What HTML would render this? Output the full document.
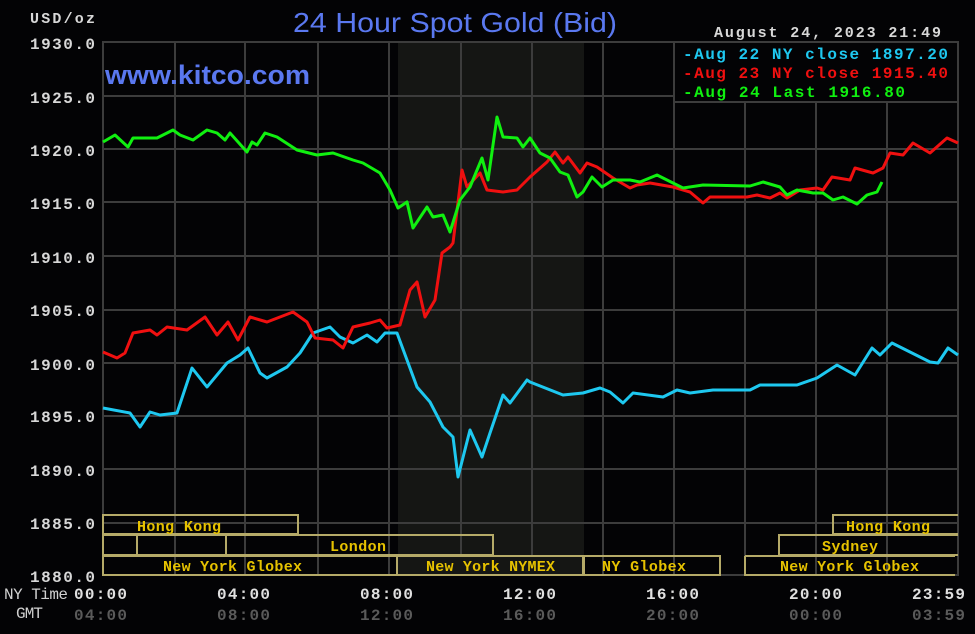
<!DOCTYPE html>
<html><head><meta charset="utf-8"><style>
html,body{margin:0;padding:0;background:#030305;}
svg{display:block}
.m{font-family:"Liberation Mono",monospace;font-weight:bold;}
</style></head><body>
<svg width="975" height="634" viewBox="0 0 975 634" xmlns="http://www.w3.org/2000/svg">
<rect width="975" height="634" fill="#030305"/>
<rect x="398" y="42" width="186" height="533" fill="#151614"/>
<g stroke="#3c3c3c" stroke-width="2" fill="none">
<line x1="103" y1="96" x2="958" y2="96"/><line x1="103" y1="149" x2="958" y2="149"/>
<line x1="103" y1="202" x2="958" y2="202"/><line x1="103" y1="256" x2="958" y2="256"/>
<line x1="103" y1="310" x2="958" y2="310"/><line x1="103" y1="363" x2="958" y2="363"/>
<line x1="103" y1="416" x2="958" y2="416"/><line x1="103" y1="469" x2="958" y2="469"/>
<line x1="103" y1="523" x2="958" y2="523"/>
<line x1="175" y1="42" x2="175" y2="575"/><line x1="245" y1="42" x2="245" y2="575"/>
<line x1="318" y1="42" x2="318" y2="575"/><line x1="389" y1="42" x2="389" y2="575"/>
<line x1="461" y1="42" x2="461" y2="575"/><line x1="532" y1="42" x2="532" y2="575"/>
<line x1="603" y1="42" x2="603" y2="575"/><line x1="674" y1="42" x2="674" y2="575"/>
<line x1="745" y1="42" x2="745" y2="575"/><line x1="816" y1="42" x2="816" y2="575"/>
<line x1="887" y1="42" x2="887" y2="575"/>
<rect x="103" y="42" width="855" height="533"/>
</g>
<rect x="675" y="43" width="282" height="58" fill="#030305"/>
<rect x="674" y="42" width="284" height="60" fill="none" stroke="#3c3c3c" stroke-width="2"/>
<!-- sessions -->
<g stroke="#b5aa68" stroke-width="2" fill="none">
<rect x="103" y="515" width="195" height="19"/>
<path d="M958 515 H833 V534 H958"/>
<rect x="103" y="535" width="34" height="20"/>
<rect x="137" y="535" width="89" height="20"/>
<rect x="226" y="535" width="267" height="20"/>
<path d="M958 535 H779 V555 H958"/>
<rect x="103" y="556" width="294" height="19"/>
<rect x="397" y="556" width="186" height="19" fill="#151614"/>
<rect x="584" y="556" width="136" height="19"/>
<path d="M745 556 V575 H955"/>
<line x1="745" y1="556" x2="955" y2="556"/>
</g>
<g class="m" font-size="15" fill="#e6c200" lengthAdjust="spacingAndGlyphs">
<text x="137" y="531" textLength="84">Hong Kong</text>
<text x="330" y="551" textLength="56">London</text>
<text x="163" y="571" textLength="139">New York Globex</text>
<text x="426" y="571" textLength="129">New York NYMEX</text>
<text x="602" y="571" textLength="84">NY Globex</text>
<text x="846" y="531" textLength="84">Hong Kong</text>
<text x="822" y="551" textLength="56">Sydney</text>
<text x="780" y="571" textLength="139">New York Globex</text>
</g>
<!-- lines -->
<g fill="none" stroke-width="3" stroke-linejoin="round">
<polyline stroke="#1ec8f0" points="103,408 130,413 140,427 150,412 160,415 177,413 192,368 207,387 227,363 240,355 248,348 260,373 267,378 287,367 300,353 313,333 330,327 340,337 353,343 367,335 377,342 385,333 397,333 407,360 417,387 430,402 443,427 453,437 458,477 470,430 482,457 490,433 503,395 510,403 527,380 530,382 563,395 583,393 600,388 610,392 623,403 633,393 663,397 677,390 690,393 713,390 750,390 760,385 797,385 817,378 837,365 855,375 872,348 880,355 892,343 910,352 930,362 938,363 948,348 958,355"/>
<polyline stroke="#f01010" points="103,352 117,358 125,353 133,333 150,330 157,335 167,327 187,330 205,317 217,335 228,322 238,340 250,317 267,322 293,312 307,322 315,338 333,340 343,348 353,327 370,323 380,320 387,328 400,325 410,290 417,282 425,317 435,300 442,253 450,247 453,243 462,170 467,187 480,173 487,190 503,192 517,190 530,177 547,162 555,152 563,163 568,157 580,173 587,163 597,167 613,178 630,188 637,185 650,183 673,187 690,192 703,203 710,197 747,197 757,195 770,198 780,193 787,198 800,190 817,188 823,190 832,177 850,180 855,168 873,173 883,168 890,153 903,155 913,143 930,153 947,138 958,143"/>
<polyline stroke="#10f010" points="103,142 115,135 128,147 133,138 157,138 173,130 180,135 193,140 207,130 217,133 225,140 230,133 247,152 252,142 257,145 265,133 277,137 297,150 317,155 333,153 353,160 363,163 380,173 390,190 398,208 407,202 413,228 427,207 433,217 443,215 450,232 460,200 470,187 482,158 488,180 497,117 503,137 517,138 523,147 530,138 540,153 550,158 560,172 568,175 577,197 583,192 592,177 602,187 613,180 630,180 640,182 657,175 683,188 703,185 750,186 763,182 780,187 787,195 797,190 813,193 823,193 833,200 843,197 857,204 867,195 877,192 882,182"/>
</g>
<!-- text -->
<text x="293" y="32" font-family="Liberation Sans,sans-serif" font-size="28" fill="#5a78f0" textLength="324" lengthAdjust="spacingAndGlyphs">24 Hour Spot Gold (Bid)</text>
<text x="105" y="84" font-family="Liberation Sans,sans-serif" font-size="27" font-weight="bold" fill="#5a78f0" textLength="205" lengthAdjust="spacingAndGlyphs">www.kitco.com</text>
<g class="m" font-size="15" fill="#d8d8d8" lengthAdjust="spacingAndGlyphs">
<text x="30" y="23" textLength="65">USD/oz</text>
<text x="714" y="37" textLength="227">August 24, 2023 21:49</text>
</g>
<g class="m" font-size="16" fill="#d8d8d8" lengthAdjust="spacingAndGlyphs">
<text x="30" y="49" textLength="65">1930.0</text><text x="30" y="103" textLength="65">1925.0</text><text x="30" y="156" textLength="65">1920.0</text>
<text x="30" y="209" textLength="65">1915.0</text><text x="30" y="263" textLength="65">1910.0</text><text x="30" y="316" textLength="65">1905.0</text>
<text x="30" y="370" textLength="65">1900.0</text><text x="30" y="422" textLength="65">1895.0</text><text x="30" y="476" textLength="65">1890.0</text>
<text x="30" y="529" textLength="65">1885.0</text><text x="30" y="582" textLength="65">1880.0</text>
</g>
<g class="m" font-size="16" lengthAdjust="spacingAndGlyphs">
<text x="683" y="59" fill="#1ec8f0" textLength="265">-Aug 22 NY close 1897.20</text>
<text x="683" y="78" fill="#f01010" textLength="265">-Aug 23 NY close 1915.40</text>
<text x="683" y="97" fill="#10f010" textLength="222">-Aug 24 Last 1916.80</text>
</g>
<g class="m" font-size="16" lengthAdjust="spacingAndGlyphs">
<text x="4" y="599" font-weight="normal" fill="#d0d0d0" textLength="64">NY Time</text>
<text x="16" y="618" font-weight="normal" fill="#d0d0d0" textLength="27">GMT</text>
<g fill="#e0e0e0">
<text x="74" y="599" textLength="53">00:00</text><text x="217" y="599" textLength="53">04:00</text><text x="360" y="599" textLength="53">08:00</text>
<text x="503" y="599" textLength="53">12:00</text><text x="646" y="599" textLength="53">16:00</text><text x="789" y="599" textLength="53">20:00</text><text x="912" y="599" textLength="53">23:59</text>
</g>
<g fill="#5a5a5a">
<text x="74" y="620" textLength="53">04:00</text><text x="217" y="620" textLength="53">08:00</text><text x="360" y="620" textLength="53">12:00</text>
<text x="503" y="620" textLength="53">16:00</text><text x="646" y="620" textLength="53">20:00</text><text x="789" y="620" textLength="53">00:00</text><text x="912" y="620" textLength="53">03:59</text>
</g>
</g>
</svg>
</body></html>
